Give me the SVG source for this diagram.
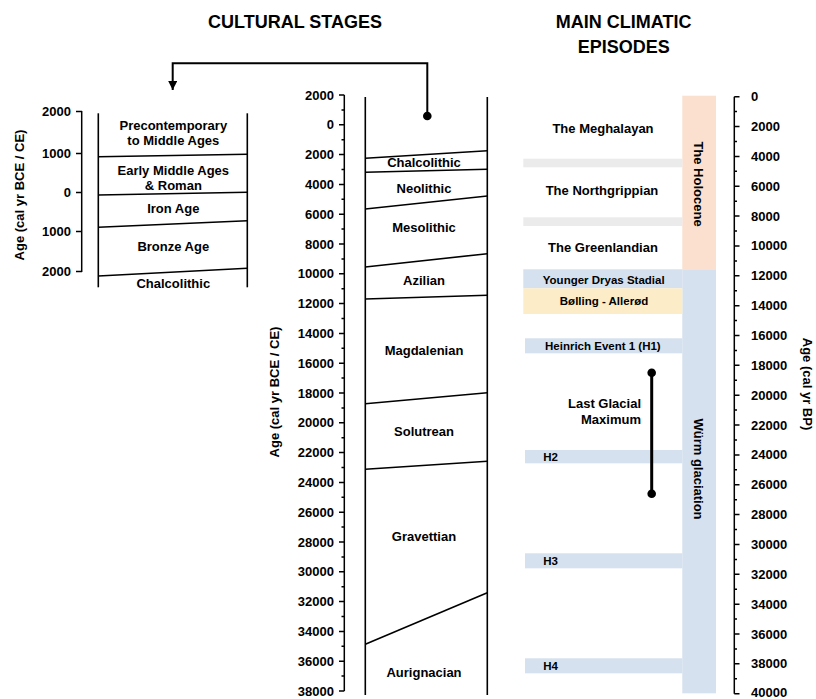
<svg xmlns="http://www.w3.org/2000/svg" width="816" height="699" viewBox="0 0 816 699">
<defs>
<style>
text{font-family:"Liberation Sans",Arial,sans-serif;font-weight:bold;fill:#000}
.t{font-size:18px;text-anchor:middle}
.lab{font-size:13px;text-anchor:middle}
.num{font-size:13px;text-anchor:end}
.numr{font-size:13px;text-anchor:start}
.sm{font-size:11.5px}
.ln{stroke:#000;stroke-width:1.6;fill:none}
.ax{stroke:#000;stroke-width:1.5;fill:none}
</style>
<marker id="arr" viewBox="0 0 10 10" refX="10" refY="5" markerWidth="4.5" markerHeight="4.5" orient="auto" markerUnits="strokeWidth">
<path d="M0,0 L10,5 L0,10 z" fill="#000"/>
</marker>
</defs>
<rect width="816" height="699" fill="#fff"/>

<g id="titles">
<text class="t" x="295" y="28.3">CULTURAL STAGES</text>
<text class="t" x="623.7" y="28.3">MAIN CLIMATIC</text>
<text class="t" x="623.7" y="52.7">EPISODES</text>
</g>

<g id="connectors">
<polyline points="427.3,116 427.3,63.3 172.7,63.3 172.7,90" fill="none" stroke="#000" stroke-width="2" marker-end="url(#arr)"/>
<circle cx="427.3" cy="116" r="4.3" fill="#000"/>
</g>

<g id="left-axis">
<line class="ax" x1="81.7" y1="111" x2="81.7" y2="272"/>
<path class="ax" d="M76,111.5H82M76,153.5H82M76,192.5H82M76,231.5H82M76,271.5H82"/>
<text class="num" x="71" y="116">2000</text>
<text class="num" x="71" y="158">1000</text>
<text class="num" x="71" y="197">0</text>
<text class="num" x="71" y="236">1000</text>
<text class="num" x="71" y="276">2000</text>
<text class="lab" transform="translate(19,195) rotate(-90)" x="0" y="4.7">Age (cal yr BCE / CE)</text>
</g>

<g id="left-chart">
<line class="ln" x1="98.3" y1="113.3" x2="98.3" y2="287.3"/>
<line class="ln" x1="247.3" y1="113.3" x2="247.3" y2="287.3"/>
<line class="ln" x1="98.3" y1="156.7" x2="247.3" y2="154.3"/>
<line class="ln" x1="98.3" y1="195" x2="247.3" y2="192.3"/>
<line class="ln" x1="98.3" y1="227.3" x2="247.3" y2="220.7"/>
<line class="ln" x1="98.3" y1="276" x2="247.3" y2="268.3"/>
<text class="lab" x="173.3" y="129.7">Precontemporary</text>
<text class="lab" x="173.3" y="144.7">to Middle Ages</text>
<text class="lab" x="173.3" y="174.7">Early Middle Ages</text>
<text class="lab" x="173.3" y="189.7">&amp; Roman</text>
<text class="lab" x="173.3" y="213">Iron Age</text>
<text class="lab" x="173.3" y="251.4">Bronze Age</text>
<text class="lab" x="173.3" y="288">Chalcolithic</text>
</g>

<g id="mid-axis">
<line class="ax" x1="344.3" y1="95" x2="344.3" y2="691"/>
<path class="ax" d="M339,95H344.3M339,124.8H344.3M339,154.6H344.3M339,184.4H344.3M339,214.2H344.3M339,244H344.3M339,273.8H344.3M339,303.6H344.3M339,333.4H344.3M339,363.2H344.3M339,393H344.3M339,422.8H344.3M339,452.6H344.3M339,482.4H344.3M339,512.2H344.3M339,542H344.3M339,571.8H344.3M339,601.6H344.3M339,631.4H344.3M339,661.2H344.3M339,691H344.3"/>
<path class="ax" d="M341.5,109.9H344.3M341.5,139.7H344.3M341.5,169.5H344.3M341.5,199.3H344.3M341.5,229.1H344.3M341.5,258.9H344.3M341.5,288.7H344.3M341.5,318.5H344.3M341.5,348.3H344.3M341.5,378.1H344.3M341.5,407.9H344.3M341.5,437.7H344.3M341.5,467.5H344.3M341.5,497.3H344.3M341.5,527.1H344.3M341.5,556.9H344.3M341.5,586.7H344.3M341.5,616.5H344.3M341.5,646.3H344.3M341.5,676.1H344.3"/>
<text class="num" x="334" y="99.5">2000</text>
<text class="num" x="334" y="129.3">0</text>
<text class="num" x="334" y="159.1">2000</text>
<text class="num" x="334" y="188.9">4000</text>
<text class="num" x="334" y="218.7">6000</text>
<text class="num" x="334" y="248.5">8000</text>
<text class="num" x="334" y="278.3">10000</text>
<text class="num" x="334" y="308.1">12000</text>
<text class="num" x="334" y="337.9">14000</text>
<text class="num" x="334" y="367.7">16000</text>
<text class="num" x="334" y="397.5">18000</text>
<text class="num" x="334" y="427.3">20000</text>
<text class="num" x="334" y="457.1">22000</text>
<text class="num" x="334" y="486.9">24000</text>
<text class="num" x="334" y="516.7">26000</text>
<text class="num" x="334" y="546.5">28000</text>
<text class="num" x="334" y="576.3">30000</text>
<text class="num" x="334" y="606.1">32000</text>
<text class="num" x="334" y="635.9">34000</text>
<text class="num" x="334" y="665.7">36000</text>
<text class="num" x="334" y="695.5">38000</text>
<text class="lab" transform="translate(274,392) rotate(-90)" x="0" y="4.7">Age (cal yr BCE / CE)</text>
</g>

<g id="cultural-stages">
<line class="ln" x1="365.3" y1="97" x2="365.3" y2="695"/>
<line class="ln" x1="487.3" y1="97" x2="487.3" y2="695"/>
<line class="ln" x1="365.3" y1="158.3" x2="487.3" y2="150.7"/>
<line class="ln" x1="365.3" y1="172.3" x2="487.3" y2="169.3"/>
<line class="ln" x1="365.3" y1="209" x2="487.3" y2="196"/>
<line class="ln" x1="365.3" y1="267" x2="487.3" y2="253.7"/>
<line class="ln" x1="365.3" y1="299" x2="487.3" y2="295.3"/>
<line class="ln" x1="365.3" y1="403.7" x2="487.3" y2="392.7"/>
<line class="ln" x1="365.3" y1="469.3" x2="487.3" y2="461.3"/>
<line class="ln" x1="365.3" y1="644.3" x2="487.3" y2="592.7"/>
<text class="lab" x="424" y="167.3">Chalcolithic</text>
<text class="lab" x="424" y="193">Neolithic</text>
<text class="lab" x="424" y="232">Mesolithic</text>
<text class="lab" x="424" y="284.7">Azilian</text>
<text class="lab" x="424" y="354.7">Magdalenian</text>
<text class="lab" x="424" y="435.7">Solutrean</text>
<text class="lab" x="424" y="541.4">Gravettian</text>
<text class="lab" x="424" y="677">Aurignacian</text>
</g>

<g id="climatic-bands">
<rect x="682.3" y="95.7" width="33.7" height="173.6" fill="#FBE0D0"/>
<rect x="682.3" y="269.3" width="33.7" height="424" fill="#D5E1EE"/>
<rect x="523.3" y="158.7" width="159" height="8.6" fill="#EBEBEB"/>
<rect x="523.3" y="217.3" width="159" height="8.7" fill="#EBEBEB"/>
<rect x="523.3" y="269.3" width="159" height="19" fill="#D5E1EE"/>
<rect x="523.3" y="288.3" width="159" height="25.7" fill="#FCEDC8"/>
<rect x="525" y="338.3" width="157.3" height="15" fill="#D5E1EE"/>
<rect x="525" y="450" width="157.3" height="13.3" fill="#D5E1EE"/>
<rect x="525" y="553.3" width="157.3" height="15" fill="#D5E1EE"/>
<rect x="525" y="658.3" width="157.3" height="15" fill="#D5E1EE"/>
</g>

<g id="climatic-labels">
<text class="lab" x="603" y="133">The Meghalayan</text>
<text class="lab" x="602" y="194.7">The Northgrippian</text>
<text class="lab" x="603" y="252">The Greenlandian</text>
<text class="sm" x="603.7" y="284" text-anchor="middle">Younger Dryas Stadial</text>
<text class="sm" x="604" y="304.8" text-anchor="middle">Bølling - Allerød</text>
<text class="sm" x="545" y="350">Heinrich Event 1 (H1)</text>
<text class="sm" x="543.3" y="460.8">H2</text>
<text class="sm" x="543.3" y="564.8">H3</text>
<text class="sm" x="543.3" y="669.8">H4</text>
<text class="lab" transform="translate(698.3,184) rotate(90)" x="0" y="4.7">The Holocene</text>
<text class="lab" transform="translate(698.3,469) rotate(90)" x="0" y="4.7">Würm glaciation</text>
</g>

<g id="lgm">
<line x1="651.7" y1="372.7" x2="651.7" y2="493.7" stroke="#000" stroke-width="3"/>
<circle cx="651.7" cy="372.7" r="4.3" fill="#000"/>
<circle cx="651.7" cy="493.7" r="4.3" fill="#000"/>
<text class="lab" x="641" y="407.7" style="text-anchor:end">Last Glacial</text>
<text class="lab" x="641" y="424" style="text-anchor:end">Maximum</text>
</g>

<g id="right-axis">
<line class="ax" x1="734.3" y1="96.7" x2="734.3" y2="693.7"/>
<path class="ax" d="M734.3,96.7H739.5M734.3,126.55H739.5M734.3,156.4H739.5M734.3,186.25H739.5M734.3,216.1H739.5M734.3,245.95H739.5M734.3,275.8H739.5M734.3,305.65H739.5M734.3,335.5H739.5M734.3,365.35H739.5M734.3,395.2H739.5M734.3,425.05H739.5M734.3,454.9H739.5M734.3,484.75H739.5M734.3,514.6H739.5M734.3,544.45H739.5M734.3,574.3H739.5M734.3,604.15H739.5M734.3,634H739.5M734.3,663.85H739.5M734.3,693.7H739.5"/>
<path class="ax" d="M734.3,111.6H737M734.3,141.5H737M734.3,171.3H737M734.3,201.2H737M734.3,231H737M734.3,260.9H737M734.3,290.7H737M734.3,320.6H737M734.3,350.4H737M734.3,380.3H737M734.3,410.1H737M734.3,440H737M734.3,469.8H737M734.3,499.7H737M734.3,529.5H737M734.3,559.4H737M734.3,589.2H737M734.3,619.1H737M734.3,648.9H737M734.3,678.8H737"/>
<text class="numr" x="751" y="101.2">0</text>
<text class="numr" x="751" y="131">2000</text>
<text class="numr" x="751" y="160.9">4000</text>
<text class="numr" x="751" y="190.7">6000</text>
<text class="numr" x="751" y="220.6">8000</text>
<text class="numr" x="751" y="250.4">10000</text>
<text class="numr" x="751" y="280.3">12000</text>
<text class="numr" x="751" y="310.1">14000</text>
<text class="numr" x="751" y="340">16000</text>
<text class="numr" x="751" y="369.8">18000</text>
<text class="numr" x="751" y="399.7">20000</text>
<text class="numr" x="751" y="429.5">22000</text>
<text class="numr" x="751" y="459.4">24000</text>
<text class="numr" x="751" y="489.2">26000</text>
<text class="numr" x="751" y="519.1">28000</text>
<text class="numr" x="751" y="548.9">30000</text>
<text class="numr" x="751" y="578.8">32000</text>
<text class="numr" x="751" y="608.6">34000</text>
<text class="numr" x="751" y="638.5">36000</text>
<text class="numr" x="751" y="668.3">38000</text>
<text class="numr" x="751" y="696.8">40000</text>
<text class="lab" transform="translate(808,384) rotate(90)" x="0" y="4.7">Age (cal yr BP)</text>
</g>
</svg>
